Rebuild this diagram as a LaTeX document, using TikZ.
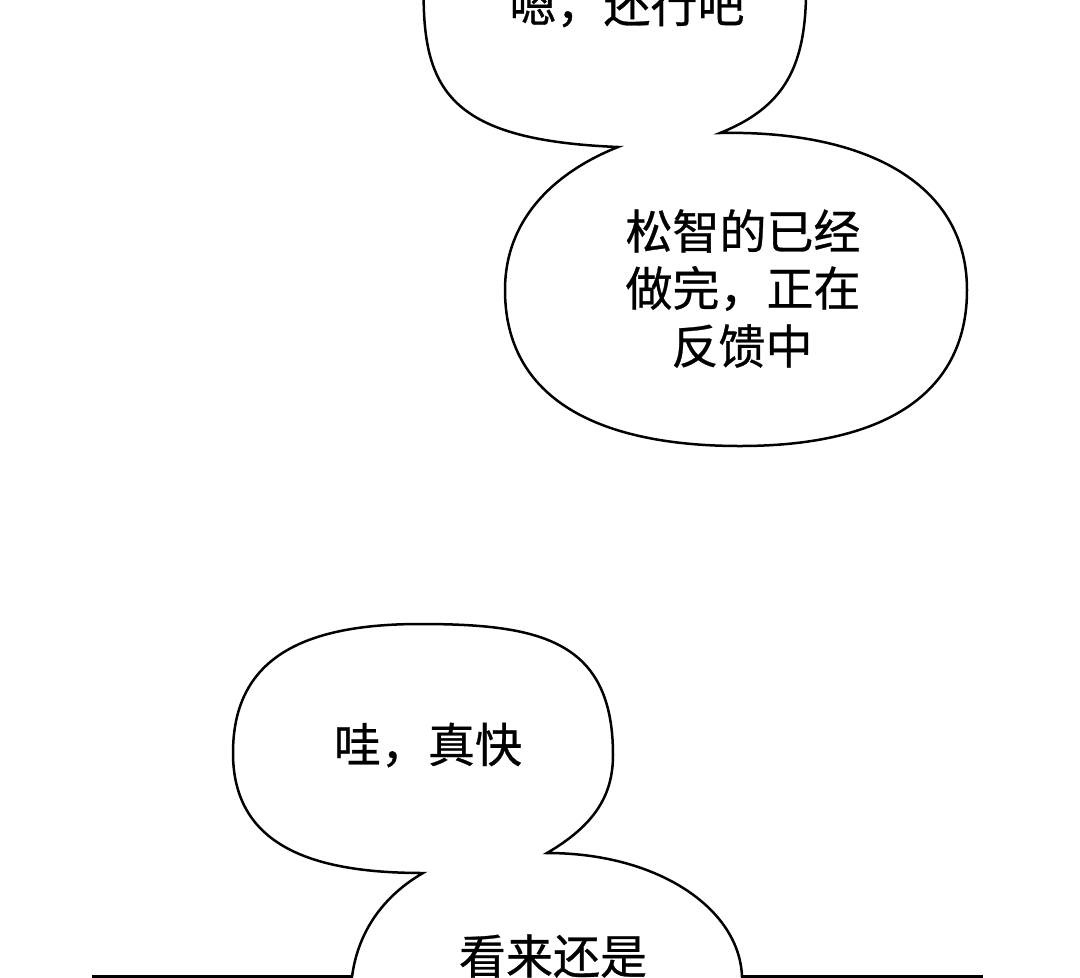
\documentclass[tikz,border=0pt]{standalone}
\usepackage{fontspec}
\newfontfamily\cjk[FakeBold=0.6]{Noto Sans CJK SC}
\begin{document}
\begin{tikzpicture}[x=1pt,y=-1pt,
  bubble/.style={draw=black,line width=2.5pt,line join=miter,miter limit=20},
  ground/.style={draw=black,line width=3pt},
  speech/.style={font=\cjk\fontsize{47}{57}\selectfont,inner sep=0pt,anchor=center,text=black}]
\useasboundingbox (0,0) rectangle (1080,978);
\clip (0,0) rectangle (1080,978);
\fill[white] (0,0) rectangle (1080,978);

% top bubble (cut off) and the bubble below it
\coordinate (tailA) at (618,147);
\coordinate (tailB) at (720,133);
\draw[bubble] (424,-25) .. controls (420,88) and (445,140) .. (tailA)
  .. controls (560,170) and (505,215) .. (505,290)
  .. controls (505,400) and (600,446) .. (740,446)
  .. controls (890,446) and (967,390) .. (967,290)
  .. controls (967,180) and (860,130) .. (tailB)
  .. controls (790,105) and (808,60) .. (806,-25);

% middle bubble and the bubble below it
\coordinate (tailC) at (423,873);
\coordinate (tailD) at (547,853);
\draw[bubble] (352,977) .. controls (358,930) and (385,895) .. (tailC)
  .. controls (320,873) and (233,850) .. (233,753)
  .. controls (233,660) and (300,624) .. (420,624)
  .. controls (540,624) and (613,640) .. (613,755)
  .. controls (613,795) and (595,825) .. (tailD)
  .. controls (660,853) and (740,910) .. (742,977);

\draw[ground] (92,976.5) -- (353,976.5);
\draw[ground] (741,976.5) -- (983,976.5);

\node[speech] (t1) at (627,5) {嗯，还行吧};
\node[speech] (t2a) at (743,231) {松智的已经};
\node[speech] (t2b) at (743,288.5) {做完，正在};
\node[speech] (t2c) at (742,346) {反馈中};
\node[speech] (t3) at (428,745) {哇，真快};
\node[speech] (t4) at (553,956) {看来还是};
\end{tikzpicture}
\end{document}
